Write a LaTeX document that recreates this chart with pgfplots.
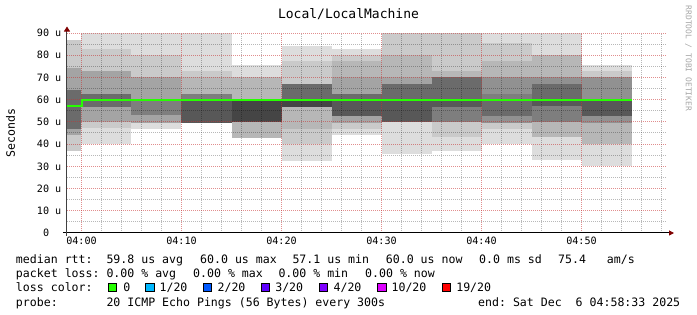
\documentclass[border=0pt]{standalone}
\usepackage{fontspec}
\usepackage{pgfplots}
\pgfplotsset{compat=1.18}
\usetikzlibrary{arrows.meta}
\setmainfont{DejaVu Sans Mono}
\newfontfamily\mono[WordSpace={1,0,0}]{DejaVu Sans Mono}
\definecolor{ga}{HTML}{DDDDDD}
\definecolor{gb}{HTML}{CACACA}
\definecolor{gc}{HTML}{B7B7B7}
\definecolor{gd}{HTML}{A4A4A4}
\definecolor{ge}{HTML}{919191}
\definecolor{gf}{HTML}{7E7E7E}
\definecolor{gg}{HTML}{6B6B6B}
\definecolor{gh}{HTML}{585858}
\definecolor{gi}{HTML}{454545}
\definecolor{lossA}{HTML}{26FF00}
\definecolor{lossB}{HTML}{00B8FF}
\definecolor{lossC}{HTML}{0059FF}
\definecolor{lossD}{HTML}{5E00FF}
\definecolor{lossE}{HTML}{7E00FF}
\definecolor{lossF}{HTML}{DD00FF}
\definecolor{lossG}{HTML}{FF0000}
\definecolor{arrowred}{HTML}{7F0000}
\definecolor{mgrid}{HTML}{C83232}
% one smoke band: x0, x1, low, high, colour
\newcommand\seg[5]{\addplot[fill=#5,draw=none,forget plot] coordinates {(#1,#3) (#2,#3) (#2,#4) (#1,#4)};}
\newcommand\legfont{\mono\fontsize{11.57}{14}\selectfont\frenchspacing}
\newcommand\axfont{\mono\fontsize{10.12}{12}\selectfont\frenchspacing}
\pgfplotsset{geom/.style={scale only axis, width=600pt, height=200pt,
  xmin=-1.45, xmax=58.55, ymin=0, ymax=90}}
\begin{document}
\begin{tikzpicture}
\begin{axis}[
  geom,
  axis x line=bottom, axis y line=left,
  axis on top,
  xtick={0,10,20,30,40,50},
  xticklabels={04:00,04:10,04:20,04:30,04:40,04:50},
  minor xtick={2,4,6,8,12,14,16,18,22,24,26,28,32,34,36,38,42,44,46,48,52,54,56,58},
  ytick={0,10,...,90},
  yticklabels={0\hphantom{00},10 u,20 u,30 u,40 u,50 u,60 u,70 u,80 u,90 u},
  minor ytick={5,15,...,85},
  grid=both,
  major grid style={draw=mgrid, opacity=0.55, line width=1pt, dash pattern=on 1pt off 1pt},
  minor grid style={draw=black, opacity=0.28, line width=1pt, dash pattern=on 1pt off 1pt},
  major tick length=0pt, minor tick length=0pt,
  xticklabel style={font=\axfont, anchor=base, inner sep=0pt, yshift=-11.7pt},
  yticklabel style={font=\axfont, anchor=east, inner sep=0pt, xshift=-5.5pt},
  x axis line style={draw=black, line width=1pt, shorten <=-4pt, shorten >=-7pt,
     -{Triangle[length=5pt,width=5pt,color=arrowred]}},
  y axis line style={draw=black!75, line width=1pt, shorten <=-3pt, shorten >=-6.5pt,
     -{Triangle[length=5pt,width=6pt,color=arrowred]}},
]
% 03:58:33-04:00
\seg{-1.45}{0}{36.9}{44.2}{gb}\seg{-1.45}{0}{44.2}{47}{gd}\seg{-1.45}{0}{47}{64.4}{gg}
\seg{-1.45}{0}{64.4}{74.1}{gd}\seg{-1.45}{0}{74.1}{86.7}{gb}
% 04:00
\seg{0}{5}{40}{47.1}{ga}\seg{0}{5}{47.1}{49.8}{gb}\seg{0}{5}{49.8}{56.7}{gd}\seg{0}{5}{56.7}{62.6}{gg}
\seg{0}{5}{62.6}{73.1}{gd}\seg{0}{5}{73.1}{82.9}{gb}\seg{0}{5}{82.9}{90}{ga}
% 04:05
\seg{5}{10}{46.8}{49.5}{ga}\seg{5}{10}{49.5}{53}{gd}\seg{5}{10}{53}{60}{gf}
\seg{5}{10}{60}{70}{gd}\seg{5}{10}{70}{80}{gb}\seg{5}{10}{80}{90}{ga}
% 04:10
\seg{10}{15}{49.7}{60}{gh}\seg{10}{15}{60}{62.6}{gf}\seg{10}{15}{62.6}{70}{gc}
\seg{10}{15}{70}{72.8}{gb}\seg{10}{15}{72.8}{90}{ga}
% 04:15
\seg{15}{20}{42.8}{50}{gc}\seg{15}{20}{50}{60}{gi}\seg{15}{20}{60}{70}{gc}\seg{15}{20}{70}{75.7}{ga}
% 04:20
\seg{20}{25}{32.4}{40}{ga}\seg{20}{25}{40}{47}{gb}\seg{20}{25}{47}{56.7}{gc}\seg{20}{25}{56.7}{60}{gi}
\seg{20}{25}{60}{67}{gg}\seg{20}{25}{67}{77.2}{gb}\seg{20}{25}{77.2}{84.2}{ga}
% 04:25
\seg{25}{30}{44.3}{46.8}{ga}\seg{25}{30}{46.8}{49.5}{gb}\seg{25}{30}{49.5}{52.8}{gd}\seg{25}{30}{52.8}{60}{gh}
\seg{25}{30}{60}{62.7}{gg}\seg{25}{30}{62.7}{70}{gd}\seg{25}{30}{70}{77.2}{gc}\seg{25}{30}{77.2}{80}{gb}
\seg{25}{30}{80}{83}{ga}
% 04:30
\seg{30}{35}{35.5}{50}{ga}\seg{30}{35}{50}{60}{gh}\seg{30}{35}{60}{67}{gg}\seg{30}{35}{67}{70}{gd}
\seg{30}{35}{70}{80}{gc}\seg{30}{35}{80}{90}{gb}
% 04:35
\seg{35}{40}{36.9}{43}{ga}\seg{35}{40}{43}{50}{gb}\seg{35}{40}{50}{56.7}{gf}\seg{35}{40}{56.7}{60}{gh}
\seg{35}{40}{60}{70}{gg}\seg{35}{40}{70}{73}{gc}\seg{35}{40}{73}{90}{gb}
% 04:40
\seg{40}{45}{40}{47}{ga}\seg{40}{45}{47}{49.5}{gb}\seg{40}{45}{49.5}{52.8}{ge}\seg{40}{45}{52.8}{60}{gg}
\seg{40}{45}{60}{62.6}{gf}\seg{40}{45}{62.6}{70}{ge}\seg{40}{45}{70}{77.2}{gc}\seg{40}{45}{77.2}{85.4}{gb}
\seg{40}{45}{85.4}{90}{ga}
% 04:45
\seg{45}{50}{32.7}{43}{ga}\seg{45}{50}{43}{50}{gc}\seg{45}{50}{50}{57}{gf}\seg{45}{50}{57}{60}{gh}
\seg{45}{50}{60}{67}{gg}\seg{45}{50}{67}{70}{ge}\seg{45}{50}{70}{80}{gc}\seg{45}{50}{80}{90}{ga}
% 04:50
\seg{50}{55}{30.2}{40}{ga}\seg{50}{55}{40}{49.5}{gc}\seg{50}{55}{49.5}{52.8}{ge}\seg{50}{55}{52.8}{60}{gh}
\seg{50}{55}{60}{70}{ge}\seg{50}{55}{70}{72.8}{gb}\seg{50}{55}{72.8}{75.7}{ga}
\coordinate (O) at (rel axis cs:0,0);
\end{axis}
% median rtt, drawn above the grid
\begin{axis}[geom, hide axis]
\addplot[const plot mark left, draw=lossA, line width=2pt, mark=none]
  coordinates {(-1.45,57.1) (0,60) (5,60) (10,60) (15,60) (20,60) (25,60) (30,60) (35,60) (40,60) (45,60) (50,60) (55,60)};
\end{axis}
\begin{scope}[shift={(O)}, xshift=-67pt, yshift=-82pt, x=1pt, y=1pt]
\node[anchor=base, inner sep=0pt, font=\mono\fontsize{13}{15}\selectfont] at (348.5,296.7) {Local/LocalMachine};
\node[rotate=-90, anchor=west, inner sep=0pt, text=black!35, font=\mono\fontsize{7.95}{9}\selectfont] at (688.5,309.5) {RRDTOOL / TOBI OETIKER};
\node[rotate=90, inner sep=0pt, font=\legfont] at (10.5,182) {Seconds};
\begin{scope}[every node/.style={anchor=base west, inner sep=0pt, font=\legfont}]
\node at (15.8,51.5) {median rtt:};
\node at (106.3,51.5) {59.8 us avg};
\node at (200.0,51.5) {60.0 us max};
\node at (292.3,51.5) {57.1 us min};
\node at (385.7,51.5) {60.0 us now};
\node at (479.0,51.5) {0.0 ms sd};
\node at (558.0,51.5) {75.4};
\node at (606.7,51.5) {am/s};
\node at (15.8,37.3) {packet loss:};
\node at (106.3,37.3) {0.00 \% avg};
\node at (193.0,37.3) {0.00 \% max};
\node at (278.3,37.3) {0.00 \% min};
\node at (365.0,37.3) {0.00 \% now};
\node at (15.8,23.1) {loss color:};
\node at (123.1,23.1) {0};
\node at (159.4,23.1) {1/20};
\node at (217.4,23.1) {2/20};
\node at (275.1,23.1) {3/20};
\node at (333.4,23.1) {4/20};
\node at (391.4,23.1) {10/20};
\node at (456.1,23.1) {19/20};
\node at (15.8,8.9) {probe:};
\node at (106.3,8.9) {20 ICMP Echo Pings (56 Bytes) every 300s};
\node at (478.0,8.9) {end: Sat Dec\ \ 6 04:58:33 2025};
\end{scope}
\begin{scope}[draw=black, line width=0.8pt]
\draw[fill=lossA] (108.3,23.3) rectangle (116.7,31.7);
\draw[fill=lossB] (145.7,23.3) rectangle (154.1,31.7);
\draw[fill=lossC] (203.3,23.3) rectangle (211.7,31.7);
\draw[fill=lossD] (261.0,23.3) rectangle (269.4,31.7);
\draw[fill=lossE] (319.3,23.3) rectangle (327.7,31.7);
\draw[fill=lossF] (377.7,23.3) rectangle (386.1,31.7);
\draw[fill=lossG] (442.3,23.3) rectangle (450.7,31.7);
\end{scope}
\pgfresetboundingbox
\path[use as bounding box] (0,0) rectangle (697,315);
\end{scope}
\end{tikzpicture}
\end{document}
